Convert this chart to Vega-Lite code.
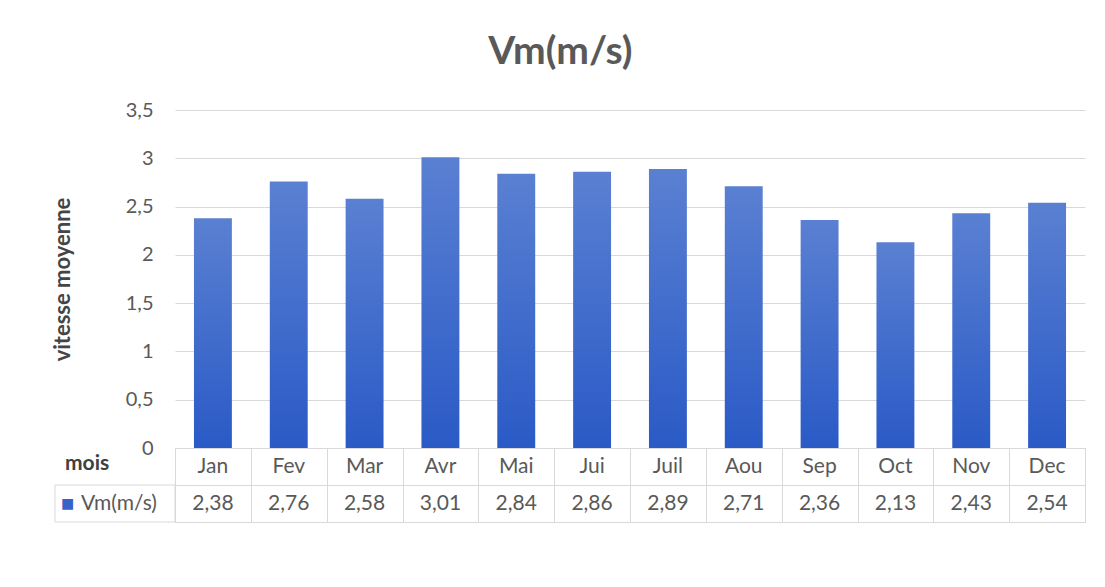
{
  "$schema": "https://vega.github.io/schema/vega-lite/v6.json",
  "background": "white",
  "padding": {"left": 51, "top": 33, "right": 20, "bottom": 60},
  "title": {
    "text": "Vm(m/s)",
    "font": "Lato",
    "fontSize": 39,
    "fontWeight": "bold",
    "color": "#595959",
    "anchor": "middle",
    "frame": "bounds",
    "dx": -8,
    "offset": 28
  },
  "datasets": {
    "vm": [
      {"mois": "Jan", "vm": 2.38},
      {"mois": "Fev", "vm": 2.76},
      {"mois": "Mar", "vm": 2.58},
      {"mois": "Avr", "vm": 3.01},
      {"mois": "Mai", "vm": 2.84},
      {"mois": "Jui", "vm": 2.86},
      {"mois": "Juil", "vm": 2.89},
      {"mois": "Aou", "vm": 2.71},
      {"mois": "Sep", "vm": 2.36},
      {"mois": "Oct", "vm": 2.13},
      {"mois": "Nov", "vm": 2.43},
      {"mois": "Dec", "vm": 2.54}
    ]
  },
  "columns": 2,
  "spacing": 0,
  "bounds": "flush",
  "concat": [
    {
      "width": 120,
      "height": 338,
      "data": {"values": [{}]},
      "mark": {"type": "text", "text": ""},
      "encoding": {}
    },
    {
      "width": 910,
      "height": 338,
      "data": {"name": "vm"},
      "mark": {
        "type": "bar",
        "color": {
          "gradient": "linear",
          "x1": 0, "y1": 0, "x2": 0, "y2": 1,
          "stops": [
            {"offset": 0, "color": "#5a80d2"},
            {"offset": 1, "color": "#2a5ac6"}
          ]
        }
      },
      "encoding": {
        "x": {
          "field": "mois",
          "type": "nominal",
          "sort": null,
          "scale": {"paddingInner": 0.5, "paddingOuter": 0.25},
          "axis": {"labels": false, "ticks": false, "title": null, "domainColor": "#d9d9d9", "domainWidth": 1}
        },
        "y": {
          "field": "vm",
          "type": "quantitative",
          "scale": {"domain": [0, 3.5]},
          "axis": {
            "values": [0, 0.5, 1, 1.5, 2, 2.5, 3, 3.5],
            "format": "~g",
            "domain": false,
            "ticks": false,
            "grid": true,
            "gridColor": "#d9d9d9",
            "labelPadding": 22,
            "title": "vitesse moyenne",
            "titleFont": "Lato",
            "titleFontSize": 22,
            "titleFontWeight": "bold",
            "titleColor": "#454545",
            "titlePadding": 51
          }
        }
      }
    },
    {
      "width": 120,
      "height": 74,
      "data": {"values": [{}]},
      "layer": [
        {
          "mark": {"type": "rect", "stroke": "#d9d9d9", "strokeWidth": 1, "fill": "white"},
          "encoding": {
            "x": {"datum": 0, "type": "quantitative", "scale": {"domain": [0, 1]}, "axis": null},
            "x2": {"datum": 1},
            "y": {"datum": "Vm", "type": "nominal", "scale": {"domain": ["mois", "Vm"], "paddingInner": 0, "paddingOuter": 0}, "axis": null}
          }
        },
        {
          "mark": {"type": "text", "text": "mois", "align": "left", "dx": 10, "dy": -3, "font": "Lato", "fontSize": 21, "fontWeight": "bold", "color": "#404040"},
          "encoding": {
            "x": {"datum": 0, "type": "quantitative"},
            "y": {"datum": "mois", "type": "nominal"}
          }
        },
        {
          "mark": {"type": "text", "text": "■", "align": "left", "dx": 6, "font": "DejaVu Sans", "fontSize": 14, "color": "#3563c9"},
          "encoding": {
            "x": {"datum": 0, "type": "quantitative"},
            "y": {"datum": "Vm", "type": "nominal"}
          }
        },
        {
          "mark": {"type": "text", "text": "Vm(m/s)", "align": "left", "dx": 26, "font": "Lato", "fontSize": 21, "color": "#595959"},
          "encoding": {
            "x": {"datum": 0, "type": "quantitative"},
            "y": {"datum": "Vm", "type": "nominal"}
          }
        }
      ]
    },
    {
      "width": 910,
      "height": 74,
      "view": {"stroke": "#d9d9d9"},
      "data": {"name": "vm"},
      "layer": [
        {
          "mark": {"type": "text", "font": "Lato", "fontSize": 21, "color": "#595959"},
          "encoding": {
            "x": {
              "field": "mois",
              "type": "nominal",
              "sort": null,
              "scale": {"paddingInner": 0, "paddingOuter": 0},
              "axis": {"labels": false, "ticks": false, "domain": false, "grid": true, "gridColor": "#d9d9d9", "tickBand": "extent", "title": null}
            },
            "y": {
              "datum": "mois",
              "type": "nominal",
              "scale": {"domain": ["mois", "Vm"], "paddingInner": 0, "paddingOuter": 0},
              "axis": {"labels": false, "ticks": false, "domain": false, "grid": true, "gridColor": "#d9d9d9", "tickBand": "extent", "title": null}
            },
            "text": {"field": "mois", "type": "nominal"}
          }
        },
        {
          "mark": {"type": "text", "font": "Lato", "fontSize": 21, "color": "#595959"},
          "encoding": {
            "x": {"field": "mois", "type": "nominal", "sort": null},
            "y": {"datum": "Vm", "type": "nominal"},
            "text": {"field": "vm", "type": "quantitative", "format": ".2f"}
          }
        }
      ]
    }
  ],
  "config": {
    "font": "Lato",
    "view": {"stroke": null},
    "axis": {
      "labelFont": "Lato",
      "labelFontSize": 20,
      "labelColor": "#595959",
      "gridColor": "#d9d9d9",
      "domainColor": "#d9d9d9"
    },
    "locale": {
      "number": {
        "decimal": ",",
        "thousands": " ",
        "grouping": [3],
        "currency": ["", " €"]
      }
    }
  }
}
